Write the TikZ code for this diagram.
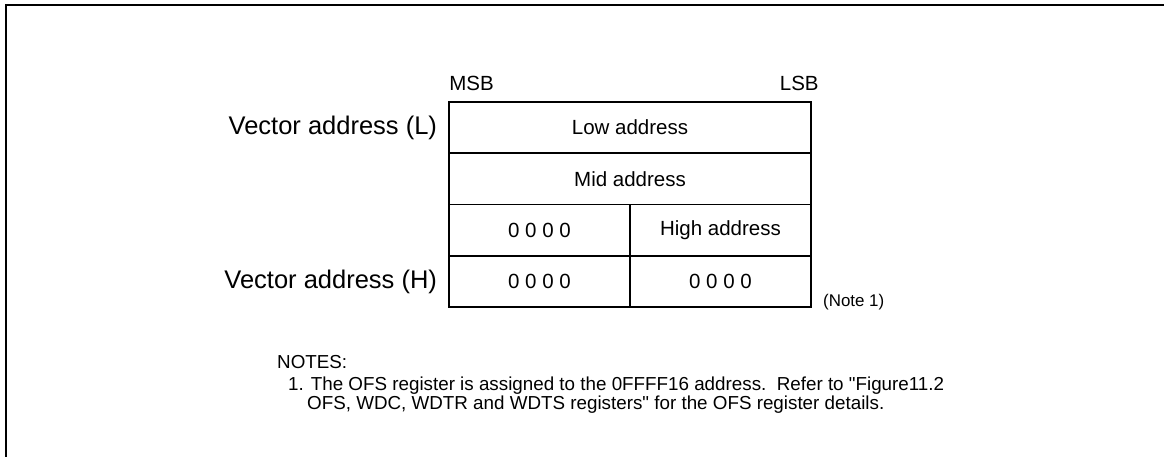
\documentclass[tikz,border=0pt]{standalone}
\usepackage{fontspec}
\setmainfont{Liberation Sans}[Ligatures=TeXOff]
\begin{document}
\begin{tikzpicture}[x=1pt,y=-1pt,
  cell/.style={draw,line width=1.6pt,minimum height=51.25pt,inner sep=0pt,font=\fontsize{20.5}{24}\selectfont},
  lbl/.style={inner sep=0pt,font=\fontsize{25.5}{30}\selectfont},
  bit/.style={inner sep=0pt,font=\fontsize{20.5}{24}\selectfont},
  note/.style={inner sep=0pt,anchor=base west,font=\fontsize{18.8}{22}\selectfont}]
\useasboundingbox (0,0) rectangle (1164,457);
% outer frame (top and left only)
\draw[line width=2pt] (6,458) -- (6,5) -- (1165,5);
% table cells
\node[cell,minimum width=362pt] (r1) at (630,127.6) {Low address};
\node[cell,minimum width=362pt] (r2) at (630,178.9) {Mid address};
\node[cell,minimum width=181pt] (r3a) at (539.5,230.1) {0 0 0 0};
\node[cell,minimum width=181pt] (r3b) at (720.5,230.1) {High address};
\node[cell,minimum width=181pt] (r4a) at (539.5,281.4) {0 0 0 0};
\node[cell,minimum width=181pt] (r4b) at (720.5,281.4) {0 0 0 0};
% bit labels
\node[bit,anchor=south west] (msb) at (r1.north west) [xshift=1pt,yshift=10pt] {MSB};
\node[bit,anchor=south east] (lsb) at (r1.north east) [xshift=7pt,yshift=10pt] {LSB};
% row labels
\node[lbl,anchor=east] (vl) at ([xshift=-11pt]r1.west) {Vector address (L)};
\node[lbl,anchor=east] (vh) at ([xshift=-11pt]r4a.west) {Vector address (H)};
% note marker
\node[inner sep=0pt,anchor=base west,font=\fontsize{16.9}{20}\selectfont] (n1) at (823,306) {(Note 1)};
% notes
\node[note] (notes) at (277,368) {NOTES:};
\node[note] (l1) at (288,390) {1. The OFS register is assigned to the 0FFFF16 address.\ \ Refer to "Figure11.2};
\node[note] (l2) at (307,409.5) {OFS, WDC, WDTR and WDTS registers" for the OFS register details.};
\end{tikzpicture}
\end{document}
